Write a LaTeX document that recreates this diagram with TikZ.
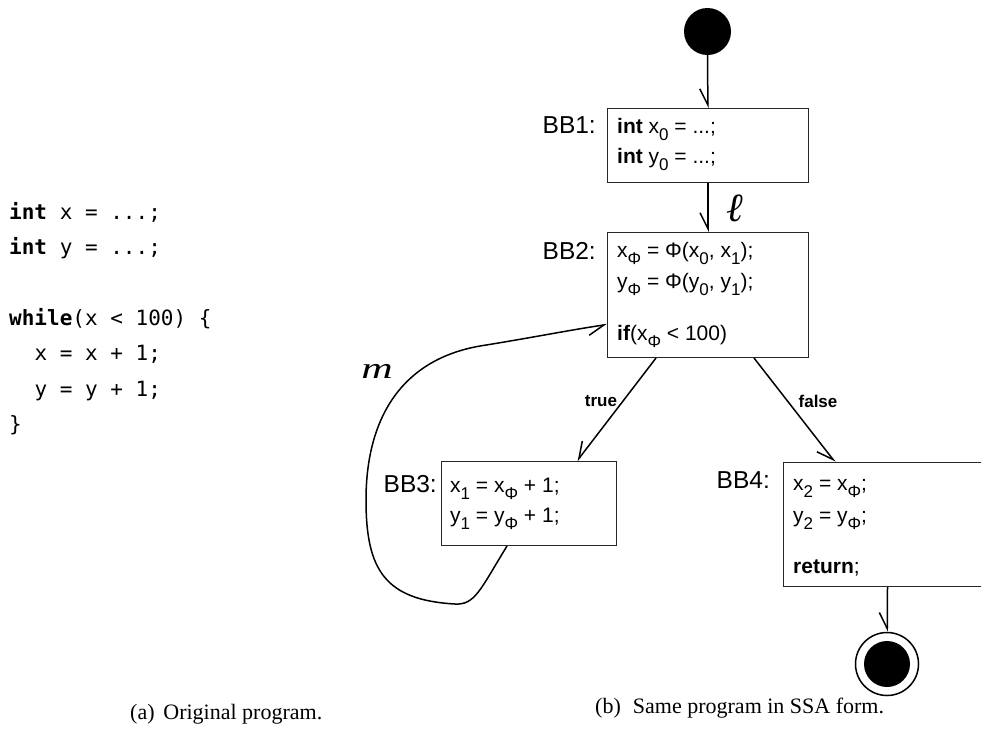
\documentclass[tikz,border=0pt]{standalone}
\usepackage{fontspec}
\setmainfont{Liberation Sans}
\newfontfamily\codefont{DejaVu Sans Mono}
\newfontfamily\capfont{Liberation Serif}
\usetikzlibrary{arrows.meta}

% look for an OpenType face that has the lowercase script letters
\newif\ifscrfound
\def\tryscr#1{%
  \ifscrfound\else
    \IfFontExistsTF{#1}{%
      \font\scrprobe="[#1]" at 10pt\relax
      \iffontchar\scrprobe "1D4C2\relax
        \global\scrfoundtrue
        \newfontfamily\scriptletters{#1}%
      \fi}{}%
  \fi}
\tryscr{STIXTwoMath-Regular.otf}
\tryscr{XITSMath-Regular.otf}
\tryscr{xits-math.otf}
\tryscr{texgyretermes-math.otf}
\tryscr{texgyrepagella-math.otf}
\tryscr{NewCMMath-Regular.otf}
\tryscr{LibertinusMath-Regular.otf}
\tryscr{libertinusmath-regular.otf}
\tryscr{Asana-Math.otf}
\tryscr{FiraMath-Regular.otf}
\ifscrfound
  \newcommand\scrl{{\scriptletters 𝓁}}
  \newcommand\scrm{{\scriptletters 𝓂}}
\else
  \newcommand\scrl{{\capfont\itshape\fontsize{40}{40}\selectfont ℓ}}
  \newcommand\scrm{\scalebox{1.45}[1]{\capfont\itshape m}}
\fi

% lowered, slightly smaller index as in the SSA listing
\newcommand\sbs[1]{\raisebox{-0.35em}{\fontsize{17}{17}\selectfont #1}}

\begin{document}
\begin{tikzpicture}[x=1pt,y=-1pt,
  bbox/.style={draw=black!85, line width=1pt, inner sep=0pt, anchor=north west},
  txt/.style={anchor=base west, inner sep=0pt, font=\fontsize{21}{21}\selectfont},
  lbl/.style={anchor=base east, inner sep=0pt, font=\fontsize{24.5}{24.5}\selectfont},
  code/.style={anchor=base west, inner sep=0pt, font=\codefont\fontsize{21}{21}\selectfont},
  captxt/.style={anchor=base west, inner sep=0pt, font=\capfont\fontsize{22}{22}\selectfont},
  edgelbl/.style={inner sep=0pt, font=\bfseries\fontsize{17}{17}\selectfont},
  scr/.style={inner sep=0pt, font=\fontsize{30}{30}\selectfont},
  arr/.style={-{Straight Barb[right,length=16pt,width=16pt]}, line width=1.5pt},
]
\useasboundingbox (0,0) rectangle (981,740);

% original program
\node[code] (c1) at (9,219) {\textbf{int} x = ...;};
\node[code] (c2) at (9,254) {\textbf{int} y = ...;};
\node[code] (c3) at (9,325) {\textbf{while}(x < 100) \{};
\node[code] (c4) at (34.3,360) {x = x + 1;};
\node[code] (c5) at (34.3,396) {y = y + 1;};
\node[code] (c6) at (9,431) {\}};

% basic blocks
\node[bbox, minimum width=201pt, minimum height=74pt] (bb1) at (607,108) {};
\node[bbox, minimum width=201pt, minimum height=125pt] (bb2) at (607,232) {};
\node[bbox, minimum width=175pt, minimum height=84pt] (bb3) at (441,461) {};
\node[bbox, minimum width=208pt, minimum height=124pt] (bb4) at (783,462) {};

\node[lbl] (l1) at (596,133) {BB1:};
\node[lbl] (l2) at (596,259) {BB2:};
\node[lbl] (l3) at (437,492) {BB3:};
\node[lbl] (l4) at (770,488) {BB4:};

\node[txt] (b1a) at (617,133) {\textbf{int} x\sbs{0} = ...;};
\node[txt] (b1b) at (617,163) {\textbf{int} y\sbs{0} = ...;};

\node[txt] (b2a) at (617,257) {x\sbs{Φ} = Φ(x\sbs{0}, x\sbs{1});};
\node[txt] (b2b) at (617,288) {y\sbs{Φ} = Φ(y\sbs{0}, y\sbs{1});};
\node[txt] (b2c) at (617,340) {\textbf{if}(x\sbs{Φ} < 100)};

\node[txt] (b3a) at (450,492) {x\sbs{1} = x\sbs{Φ} + 1;};
\node[txt] (b3b) at (450,522) {y\sbs{1} = y\sbs{Φ} + 1;};

\node[txt] (b4a) at (793,490) {x\sbs{2} = x\sbs{Φ};};
\node[txt] (b4b) at (793,522) {y\sbs{2} = y\sbs{Φ};};
\node[txt] (b4c) at (793,573) {\textbf{return};};

% initial and final states
\node[circle, fill=black, minimum size=47pt, inner sep=0pt] (start) at (707.5,31.5) {};
\node[circle, fill=black, minimum size=46pt, inner sep=0pt] (endin) at (887,664) {};
\node[circle, draw, line width=1.5pt, minimum size=63pt, inner sep=0pt] (end) at (887,664) {};

% control flow
\draw[arr] (start) -- (bb1);
\draw[arr] (bb1) -- (bb2);
\draw[arr] ([xshift=49pt]bb2.south west) -- ([xshift=136pt]bb3.north west);
\draw[arr] ([xshift=147pt]bb2.south west) -- ([xshift=52pt]bb4.north west);
\draw[arr] (bb4.south) -- (end);
\draw[arr] ([xshift=66pt]bb3.south west)
  .. controls (480,590) and (475,605) .. (455,604)
  .. controls (385,600) and (366,570) .. (366,500)
  .. controls (366,420) and (400,360) .. (480,346)
  .. controls (530,338) and (570,330) .. ([yshift=-29.5pt]bb2.west);

\node[edgelbl] (tl) at (601,401) {true};
\node[edgelbl] (fl) at (818,401) {false};
\node[scr] (ell) at (735,208) {\scrl};
\node[scr] (em) at (377,371) {\scrm};

% captions
\node[captxt] (capa) at (130,719) {(a)\hspace{0.4em}Original program.};
\node[captxt] (capb) at (595,713) {(b)\hspace{0.55em}Same program in SSA form.};
\end{tikzpicture}
\end{document}
